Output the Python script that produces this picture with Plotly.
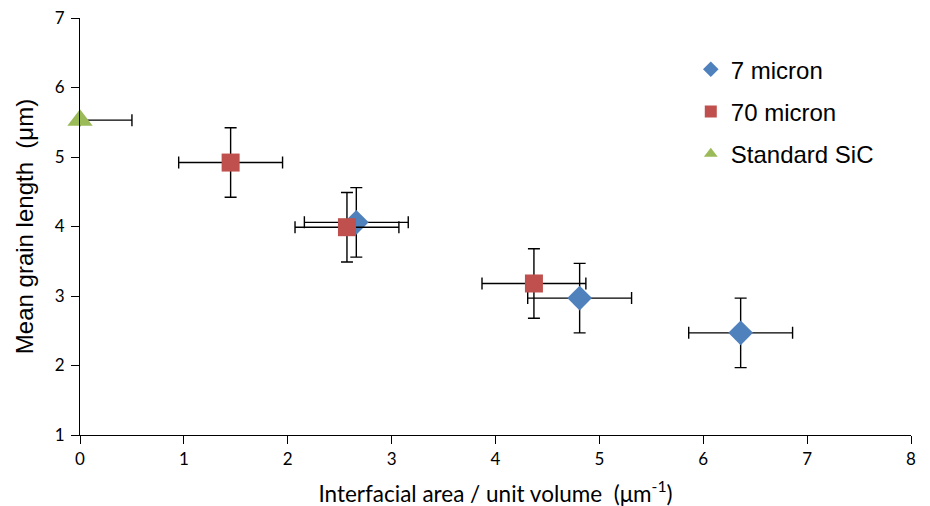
import plotly.graph_objects as go

# Data
names = ["7 micron", "70 micron", "Standard SiC"]
x7 = [2.66, 4.81, 6.36]
y7 = [4.06, 2.97, 2.47]
ex7 = [0.5, 0.5, 0.5]
ey7 = [0.5, 0.5, 0.5]

x70 = [1.45, 2.57, 4.37]
y70 = [4.92, 3.99, 3.18]
ex70 = [0.5, 0.5, 0.5]
ey70 = [0.5, 0.5, 0.5]

xs = [0.0]
ys = [5.53]
exs_plus = [0.5]
exs_minus = [0.0]

x_ticks = [0, 1, 2, 3, 4, 5, 6, 7, 8]
y_ticks = [1, 2, 3, 4, 5, 6, 7]

err_style = dict(color="black", thickness=1.4, width=6)

fig = go.Figure()
fig.add_trace(go.Scatter(
    x=x7, y=y7, mode="markers", name=names[0], legendgroup="a",
    marker=dict(symbol="diamond", size=19, color="#4F81BD"),
    error_x=dict(type="data", array=ex7, visible=True, **err_style),
    error_y=dict(type="data", array=ey7, visible=True, **err_style),
    cliponaxis=False,
))
fig.add_trace(go.Scatter(
    x=x70, y=y70, mode="markers", name=names[1], legendgroup="b",
    marker=dict(symbol="square", size=18, color="#C0504D"),
    error_x=dict(type="data", array=ex70, visible=True, **err_style),
    error_y=dict(type="data", array=ey70, visible=True, **err_style),
    cliponaxis=False,
))
fig.add_trace(go.Scatter(
    x=xs, y=ys, mode="markers", name=names[2], legendgroup="c",
    marker=dict(symbol="triangle-up", size=22, color="#9BBB59"),
    error_x=dict(type="data", array=exs_plus, arrayminus=exs_minus, symmetric=False,
                 visible=True, **err_style),
    cliponaxis=False,
))

tickfont = dict(family="Lato, sans-serif", size=17, color="black")
fig.update_layout(
    width=930, height=506,
    margin=dict(l=72, r=27, t=10, b=79, autoexpand=False),
    paper_bgcolor="white", plot_bgcolor="white",
    showlegend=True,
    legend=dict(
        x=0.735, y=0.93, xanchor="left", yanchor="top",
        font=dict(family="Liberation Sans, Arial, sans-serif", size=24, color="black"),
        tracegroupgap=8, itemsizing="constant", bgcolor="rgba(0,0,0,0)",
    ),
    xaxis=dict(
        range=[0, 8], tickvals=x_ticks, showgrid=False, zeroline=False,
        showline=True, linecolor="black", linewidth=1.2, automargin=False,
        ticks="outside", ticklen=8, tickcolor="black", tickwidth=1,
        tickfont=tickfont, ticklabeloverflow="allow",
        title=dict(text="Interfacial area / unit volume  (μm<sup>-1</sup>)",
                   font=dict(family="Lato, sans-serif", size=22.5, color="black"),
                   standoff=18),
    ),
    yaxis=dict(
        range=[1, 7], tickvals=y_ticks, showgrid=False, zeroline=False,
        showline=True, linecolor="black", linewidth=1.2, automargin=False,
        ticks="outside", ticklen=8, tickcolor="black", tickwidth=1,
        tickfont=tickfont, ticklabeloverflow="allow", ticklabelstandoff=3,
        title=dict(text="Mean grain length  (μm)",
                   font=dict(family="Liberation Sans, Arial, sans-serif", size=24, color="black"),
                   standoff=14),
    ),
    yaxis2=dict(
        range=[1, 7], tickvals=y_ticks, overlaying="y", anchor="x", side="left",
        showgrid=False, zeroline=False, showline=False, showticklabels=False,
        automargin=False,
        ticks="inside", ticklen=5, tickcolor="black", tickwidth=1,
    ),
)

fig.write_html("out.html")
